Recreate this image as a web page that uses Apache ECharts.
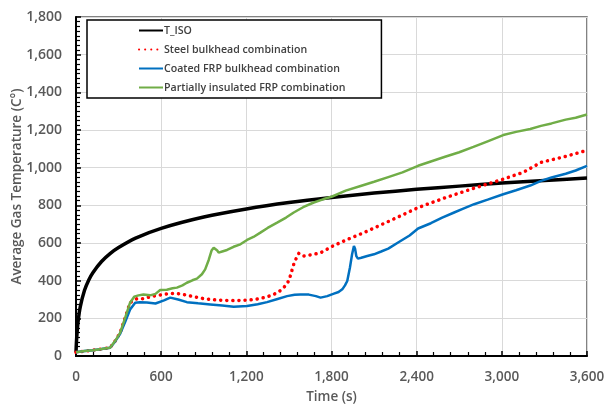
<!DOCTYPE html>
<html>
<head>
<meta charset="utf-8">
<script src="https://cdn.jsdelivr.net/npm/echarts@6/dist/echarts.min.js"></script>
<style>html,body{margin:0;padding:0;background:#fff}#c{width:606px;height:406px}</style>
</head>
<body>
<div id="c"></div>
<script>
const seriesNames = ['T_ISO', 'Steel bulkhead combination', 'Coated FRP bulkhead combination', 'Partially insulated FRP combination'];

const isoTime = [0, 5, 15, 30, 60, 90, 120, 180, 240, 300, 420, 600, 900, 1200, 1500, 1800, 2100, 2400, 2700, 3000, 3300, 3600];
const isoTemp = [20, 97, 185, 261, 349, 404, 444, 502, 544, 576, 626, 678, 738, 781, 815, 842, 865, 885, 902, 918, 932, 945];

const steelTime = [0, 60, 120, 180, 240, 275, 311, 346, 381, 428, 480, 522, 600, 664, 711, 770, 828, 890, 946, 1030, 1111, 1205, 1260, 1299, 1350, 1393, 1430, 1464, 1500, 1534, 1555, 1570, 1585, 1605, 1675, 1723, 1810, 1900, 2028, 2150, 2275, 2410, 2600, 2800, 3010, 3150, 3276, 3450, 3600];
const steelTemp = [20, 26, 31, 37, 44, 79, 123, 203, 283, 304, 304, 315, 325, 332, 332, 325, 315, 306, 300, 296, 294, 297, 300, 306, 315, 327, 342, 363, 400, 487, 525, 545, 535, 531, 540, 548, 584, 615, 655, 697, 740, 788, 840, 890, 939, 975, 1028, 1060, 1092];

const coatedTime = [0, 60, 120, 180, 240, 275, 311, 346, 381, 417, 450, 499, 560, 620, 664, 720, 781, 860, 946, 1030, 1111, 1205, 1280, 1346, 1420, 1487, 1540, 1581, 1640, 1690, 1723, 1770, 1817, 1850, 1876, 1895, 1911, 1930, 1945, 1958, 1966, 1975, 1986, 2010, 2052, 2099, 2150, 2200, 2275, 2350, 2410, 2500, 2580, 2664, 2720, 2805, 2900, 3010, 3100, 3200, 3276, 3350, 3450, 3520, 3600];
const coatedTemp = [20, 26, 31, 37, 44, 76, 118, 180, 247, 283, 286, 284, 279, 295, 310, 300, 286, 280, 274, 268, 262, 265, 275, 286, 303, 318, 325, 327, 326, 318, 310, 318, 331, 340, 354, 375, 398, 470, 540, 584, 570, 530, 517, 522, 531, 540, 555, 570, 605, 640, 677, 705, 735, 762, 780, 806, 830, 859, 880, 905, 930, 948, 968, 985, 1010];

const partialTime = [0, 60, 120, 180, 240, 275, 311, 346, 381, 410, 440, 475, 522, 560, 593, 640, 680, 711, 750, 781, 820, 852, 887, 910, 935, 955, 970, 981, 995, 1005, 1030, 1064, 1110, 1158, 1205, 1250, 1299, 1350, 1417, 1480, 1534, 1600, 1675, 1740, 1805, 1900, 2005, 2100, 2200, 2300, 2410, 2500, 2600, 2700, 2800, 2900, 3010, 3100, 3200, 3276, 3350, 3450, 3520, 3600];
const partialTemp = [20, 26, 31, 37, 44, 79, 123, 203, 283, 315, 322, 327, 322, 330, 350, 352, 360, 363, 375, 389, 402, 411, 434, 460, 510, 560, 575, 584, 560, 549, 555, 563, 580, 593, 616, 632, 655, 680, 708, 735, 762, 790, 815, 832, 847, 878, 903, 925, 950, 975, 1010, 1033, 1058, 1082, 1110, 1140, 1173, 1190, 1205, 1222, 1235, 1255, 1265, 1282];

const xTicks = [0, 600, 1200, 1800, 2400, 3000, 3600];
const yTicks = [0, 200, 400, 600, 800, 1000, 1200, 1400, 1600, 1800];

function pairs(t, v) { return t.map((x, i) => [x, v[i]]); }

const chart = echarts.init(document.getElementById('c'), null, { renderer: 'canvas' });
const font = "'Open Sans', 'Liberation Sans', sans-serif";
const axisTextColor = '#595959';

chart.setOption({
  animation: false,
  backgroundColor: '#fff',
  grid: { left: 76, right: 19, top: 17, bottom: 50, outerBoundsMode: 'none', containLabel: false,
    show: true, borderColor: '#595959', borderWidth: 1.5 },
  legend: {
    orient: 'vertical', left: 87, top: 20,
    data: seriesNames,
    backgroundColor: '#fff',
    borderColor: '#000', borderWidth: 1.5,
    padding: [5, 36, 5, 51],
    itemGap: 8, itemWidth: 24, itemHeight: 2,
    itemStyle: { color: 'transparent', borderColor: 'transparent', borderWidth: 0 },
    textStyle: { fontFamily: font, fontSize: 10.6, fontWeight: 600, color: '#404040', padding: [0, 0, 0, -4] }
  },
  xAxis: {
    type: 'value', min: xTicks[0], max: xTicks[xTicks.length - 1], interval: 600,
    name: 'Time (s)', nameLocation: 'middle', nameGap: 34, nameMoveOverlap: false,
    nameTextStyle: { fontFamily: font, fontSize: 13.5, fontWeight: 600, color: axisTextColor },
    axisLine: { show: true, onZero: false, lineStyle: { color: '#000', width: 2 } },
    axisTick: { show: true, inside: true, length: 5, lineStyle: { color: '#000', width: 1.5 } },
    minorTick: { show: true, splitNumber: 5, length: 4, lineStyle: { color: '#000', width: 1.2 } },
    axisLabel: { fontFamily: font, fontSize: 13.5, fontWeight: 600, color: axisTextColor, margin: 14,
      formatter: v => v.toLocaleString('en-US') },
    splitLine: { show: true, lineStyle: { color: '#d9d9d9', width: 1 } }
  },
  yAxis: {
    type: 'value', min: yTicks[0], max: yTicks[yTicks.length - 1], interval: 200,
    name: 'Average Gas Temperature (C°)', nameLocation: 'middle', nameGap: 52, nameMoveOverlap: false,
    nameTextStyle: { fontFamily: font, fontSize: 13.5, fontWeight: 600, color: axisTextColor },
    axisLine: { show: true, onZero: false, lineStyle: { color: '#000', width: 2 } },
    axisTick: { show: true, inside: true, length: 5, lineStyle: { color: '#000', width: 1.5 } },
    minorTick: { show: true, splitNumber: 8, length: 4, lineStyle: { color: '#000', width: 1.2 } },
    axisLabel: { fontFamily: font, fontSize: 14, fontWeight: 600, color: axisTextColor, margin: 14,
      formatter: v => v.toLocaleString('en-US') },
    splitLine: { show: true, lineStyle: { color: '#d9d9d9', width: 1 } }
  },
  series: [
    { name: seriesNames[0], type: 'line', data: pairs(isoTime, isoTemp), smooth: 0.3, symbol: 'none',
      lineStyle: { color: '#000', width: 3.5 }, itemStyle: { color: '#000' } },
    { name: seriesNames[1], type: 'line', data: pairs(steelTime, steelTemp), symbol: 'none',
      lineStyle: { color: '#ff0000', width: 3.5, type: [0.1, 6], cap: 'round' }, itemStyle: { color: '#ff0000' } },
    { name: seriesNames[2], type: 'line', data: pairs(coatedTime, coatedTemp), symbol: 'none',
      lineStyle: { color: '#0070c0', width: 2.5 }, itemStyle: { color: '#0070c0' } },
    { name: seriesNames[3], type: 'line', data: pairs(partialTime, partialTemp), symbol: 'none',
      lineStyle: { color: '#70ad47', width: 2.5 }, itemStyle: { color: '#70ad47' } }
  ]
});
</script>
</body>
</html>
